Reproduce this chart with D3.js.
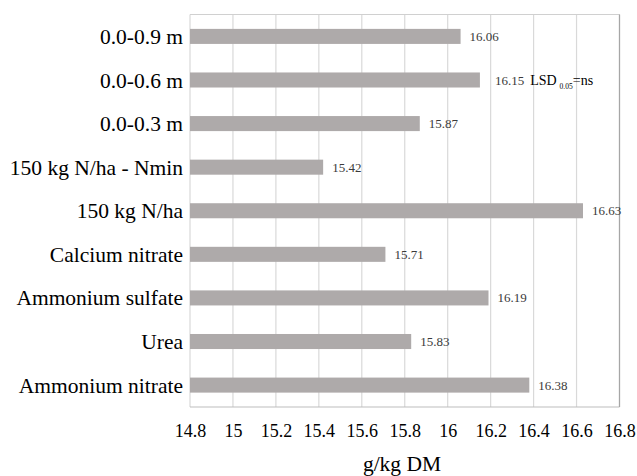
<!DOCTYPE html>
<html><head><meta charset="utf-8">
<script src="https://cdn.jsdelivr.net/npm/d3@7"></script>
<style>body{margin:0;background:#fff}svg{display:block}
svg text{font-family:"Liberation Serif","Times New Roman","DejaVu Serif",serif}</style>
</head><body><svg id="c" width="637" height="476"></svg>
<script>
const categories = ["0.0-0.9 m","0.0-0.6 m","0.0-0.3 m","150 kg N/ha - Nmin","150 kg N/ha","Calcium nitrate","Ammonium sulfate","Urea","Ammonium nitrate"];
const values = [16.06,16.15,15.87,15.42,16.63,15.71,16.19,15.83,16.38];
const tickValues = [14.8,15,15.2,15.4,15.6,15.8,16,16.2,16.4,16.6,16.8];
const tickLabels = ["14.8","15","15.2","15.4","15.6","15.8","16","16.2","16.4","16.6","16.8"];
const xTitle = "g/kg DM";

const svg = d3.select("#c");
const L = 190, R = 619.5, T = 14.5, B = 407;
const x = d3.scaleLinear().domain([14.8,16.8]).range([L,R]);
const y = d3.scaleBand().domain(categories).range([T,B]).paddingInner(0.655).paddingOuter(0.33);

// gridlines
svg.append("g").selectAll("line").data(tickValues).join("line")
  .attr("x1",d=>x(d)).attr("x2",d=>x(d)).attr("y1",T).attr("y2",B)
  .attr("stroke","#d9d9d9").attr("stroke-width",1.2);
// frame
svg.append("line").attr("x1",L).attr("x2",R).attr("y1",T).attr("y2",T).attr("stroke","#d0d0d0");
svg.append("line").attr("x1",L).attr("x2",R).attr("y1",B).attr("y2",B).attr("stroke","#bdbdbd");
svg.append("line").attr("x1",R).attr("x2",R).attr("y1",T).attr("y2",B).attr("stroke","#a6a6a6").attr("stroke-width",1.2);

// bars
svg.append("g").selectAll("rect").data(values).join("rect")
  .attr("x",x(14.8)).attr("y",(d,i)=>y(categories[i]))
  .attr("width",d=>x(d)-x(14.8)).attr("height",y.bandwidth())
  .attr("fill","#aeaaaa");

// value labels
const vl = svg.append("g").style("font-size","13px").attr("fill","#3a3a3a");
values.forEach((d,i)=>{
  const t = vl.append("text").attr("x",x(d)+(i===1?15:9)).attr("y",y(categories[i])+y.bandwidth()/2)
    .attr("dy","0.35em").text(d.toFixed(2));
  if(i===1){
    t.append("tspan").attr("dx",6).attr("fill","#000").style("font-size","14px").text("LSD");
    t.append("tspan").attr("dx",3).attr("dy",4).style("font-size","7.5px").attr("fill","#000").text("0.05");
    t.append("tspan").attr("dy",-4).attr("fill","#000").style("font-size","14px").text("=ns");
  }
});

// category labels
svg.append("g").selectAll("text").data(categories).join("text")
  .attr("x",183).attr("y",d=>y(d)+y.bandwidth()/2).attr("dy","0.35em")
  .attr("text-anchor","end").style("font-size","21.5px").attr("fill","#000")
  .text(d=>d);

// x axis tick labels
const xAxis = d3.axisBottom(x).tickValues(tickValues).tickFormat((d,i)=>tickLabels[i]).tickSize(0).tickPadding(0);
const ax = svg.append("g").attr("transform",`translate(0,${B})`).call(xAxis);
ax.attr("font-family",null).attr("font-size",null);
ax.select(".domain").remove();
ax.selectAll("text").attr("y",29.5).attr("dy",0).style("font-size","18px").attr("fill","#000");

svg.append("text").attr("x",402).attr("y",471).attr("text-anchor","middle")
  .style("font-size","21.5px").attr("fill","#000").text(xTitle);
</script></body></html>
